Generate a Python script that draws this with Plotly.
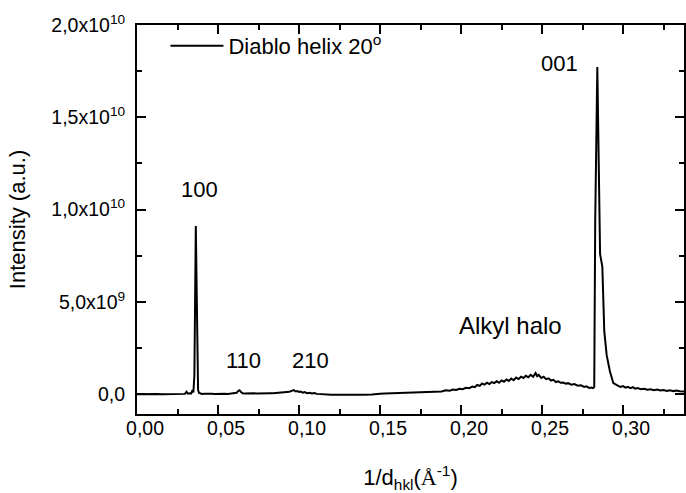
import plotly.graph_objects as go

# Diffraction pattern: scattering vector 1/d_hkl (1/Å) and intensity (units of 1e9 a.u.)
q = [
    0.0000, 0.0040, 0.0080, 0.0120, 0.0160, 0.0200, 0.0240, 0.0270, 0.0296, 0.0306,
    0.0314, 0.0325, 0.0335, 0.0342, 0.0348, 0.0354, 0.0358, 0.0363, 0.0367, 0.0370,
    0.0373, 0.0377, 0.0382, 0.0390, 0.0400, 0.0420, 0.0440, 0.0460, 0.0480, 0.0500,
    0.0520, 0.0540, 0.0560, 0.0580, 0.0600, 0.0615, 0.0625, 0.0633, 0.0642, 0.0652,
    0.0665, 0.0680, 0.0700, 0.0720, 0.0740, 0.0760, 0.0780, 0.0800, 0.0820, 0.0840,
    0.0860, 0.0880, 0.0900, 0.0920, 0.0940, 0.0955, 0.0968, 0.0980, 0.0990, 0.1000,
    0.1010, 0.1025, 0.1035, 0.1050, 0.1065, 0.1080, 0.1095, 0.1110, 0.1130, 0.1160,
    0.1200, 0.1250, 0.1300, 0.1350, 0.1400, 0.1450, 0.1480, 0.1500, 0.1530, 0.1560,
    0.1590, 0.1620, 0.1650, 0.1680, 0.1710, 0.1740, 0.1770, 0.1800, 0.1830, 0.1855,
    0.1880, 0.1905, 0.1930, 0.1950, 0.1970, 0.1990, 0.2010, 0.2030, 0.2050, 0.2070,
    0.2085, 0.2100, 0.2115, 0.2130, 0.2145, 0.2160, 0.2175, 0.2190, 0.2205, 0.2220,
    0.2235, 0.2250, 0.2265, 0.2280, 0.2295, 0.2310, 0.2325, 0.2340, 0.2355, 0.2370,
    0.2385, 0.2400, 0.2415, 0.2430, 0.2445, 0.2460, 0.2470, 0.2480, 0.2495, 0.2510,
    0.2525, 0.2540, 0.2555, 0.2570, 0.2585, 0.2600, 0.2615, 0.2630, 0.2645, 0.2660,
    0.2680, 0.2700, 0.2720, 0.2740, 0.2760, 0.2775, 0.2790, 0.2805, 0.2815, 0.2822,
    0.2828, 0.2841, 0.2848, 0.2858, 0.2872, 0.2884, 0.2899, 0.2919, 0.2940, 0.2955,
    0.2970, 0.2985, 0.3000, 0.3015, 0.3030, 0.3045, 0.3060, 0.3075, 0.3090, 0.3110,
    0.3130, 0.3150, 0.3170, 0.3190, 0.3210, 0.3230, 0.3250, 0.3270, 0.3290, 0.3310,
    0.3330, 0.3350, 0.3376,
]
intensity = [
    0.00, 0.01, 0.00, 0.01, 0.00, 0.01, 0.00, 0.02, 0.02, 0.14,
    0.03, 0.05, 0.04, 0.22, 0.10, 1.00, 4.00, 9.11, 6.50, 3.60,
    1.10, 0.25, 0.08, 0.04, 0.02, 0.03, 0.01, 0.03, 0.02, 0.03,
    0.01, 0.03, 0.02, 0.03, 0.04, 0.08, 0.18, 0.22, 0.12, 0.05,
    0.04, 0.05, 0.04, 0.05, 0.04, 0.05, 0.06, 0.05, 0.06, 0.05,
    0.07, 0.08, 0.10, 0.09, 0.13, 0.18, 0.22, 0.15, 0.17, 0.12,
    0.15, 0.09, 0.12, 0.06, 0.08, 0.04, 0.07, 0.02, 0.00, -0.02,
    -0.03, -0.03, -0.04, -0.03, -0.03, -0.02, 0.02, 0.03, 0.04, 0.05,
    0.06, 0.08, 0.07, 0.10, 0.09, 0.12, 0.11, 0.14, 0.13, 0.17,
    0.15, 0.21, 0.19, 0.25, 0.23, 0.30, 0.27, 0.35, 0.33, 0.42,
    0.38, 0.50, 0.45, 0.58, 0.52, 0.62, 0.55, 0.66, 0.60, 0.70,
    0.62, 0.75, 0.68, 0.80, 0.72, 0.85, 0.76, 0.90, 0.82, 0.95,
    0.88, 1.00, 0.92, 1.05, 0.95, 1.15, 0.98, 1.05, 0.88, 0.95,
    0.82, 0.86, 0.74, 0.78, 0.66, 0.70, 0.62, 0.64, 0.57, 0.60,
    0.52, 0.55, 0.46, 0.48, 0.40, 0.43, 0.34, 0.36, 0.33, 0.40,
    9.40, 17.72, 12.50, 7.60, 6.90, 3.40, 2.10, 1.23, 0.60, 0.50,
    0.45, 0.40, 0.44, 0.36, 0.40, 0.33, 0.38, 0.30, 0.33, 0.27,
    0.30, 0.25, 0.27, 0.22, 0.25, 0.21, 0.23, 0.18, 0.21, 0.17,
    0.20, 0.16, 0.15,
]

series_name = "Diablo helix 20<sup>o</sup>"

# Reflection labels: text, position (1/Å), height (1e9 a.u.), font size
peak_labels = ["100", "110", "210", "Alkyl halo", "001"]
peak_label_q = [0.0384, 0.0659, 0.1070, 0.2304, 0.2608]
peak_label_i = [11.10, 1.85, 1.85, 3.75, 17.90]
peak_label_size = [22, 22, 22, 24, 22]

y_tickvals = [0, 5, 10, 15, 20]
y_ticktext = ["0,0", "5,0x10<sup>9</sup>", "1,0x10<sup>10</sup>",
              "1,5x10<sup>10</sup>", "2,0x10<sup>10</sup>"]

FONT = "Liberation Sans, Arial, sans-serif"

fig = go.Figure()
fig.add_trace(go.Scatter(
    x=q, y=intensity, mode="lines", name=series_name,
    line=dict(color="black", width=2),
))

for txt, xq, yi, fs in zip(peak_labels, peak_label_q, peak_label_i, peak_label_size):
    fig.add_annotation(x=xq, y=yi, text=txt, showarrow=False,
                       font=dict(family=FONT, size=fs, color="black"),
                       xanchor="center", yanchor="middle")

axis_common = dict(
    showline=True, linewidth=2, linecolor="black", mirror="ticks",
    ticks="inside", ticklen=9, tickwidth=2, tickcolor="black",
    showgrid=False, zeroline=False,
    tickfont=dict(family=FONT, size=19.5, color="black"),
)

fig.update_xaxes(
    range=[0, 0.3376], tickmode="linear", tick0=0, dtick=0.05, tickformat=".2f",
    minor=dict(ticks="inside", ticklen=5, tickwidth=2, tickcolor="black",
               tickmode="linear", tick0=0, dtick=0.025),
    title=dict(text="1/d<sub>hkl</sub>(<span style='font-family:Liberation Serif'>Å</span><sup>-1</sup>)",
               font=dict(family=FONT, size=22, color="black"), standoff=33),
    ticklabelstandoff=-4, ticklabelshift=8,
    **axis_common,
)
fig.update_yaxes(
    range=[-1.07, 20.0], tickmode="array", tickvals=y_tickvals, ticktext=y_ticktext,
    minor=dict(ticks="inside", ticklen=5, tickwidth=2, tickcolor="black",
               tickmode="linear", tick0=0, dtick=2.5),
    title=dict(text="Intensity (a.u.)", font=dict(family=FONT, size=22, color="black"),
               standoff=20),
    ticklabelstandoff=6,
    **axis_common,
)

fig.update_layout(
    width=686, height=493,
    margin=dict(l=137, r=0, t=25, b=79),
    paper_bgcolor="white", plot_bgcolor="white",
    separators=",.",
    showlegend=True,
    legend=dict(x=0.052, y=1.0, xanchor="left", yanchor="top",
                bgcolor="rgba(0,0,0,0)", itemwidth=53,
                font=dict(family=FONT, size=22, color="black")),
)

fig.write_html("out.html")
